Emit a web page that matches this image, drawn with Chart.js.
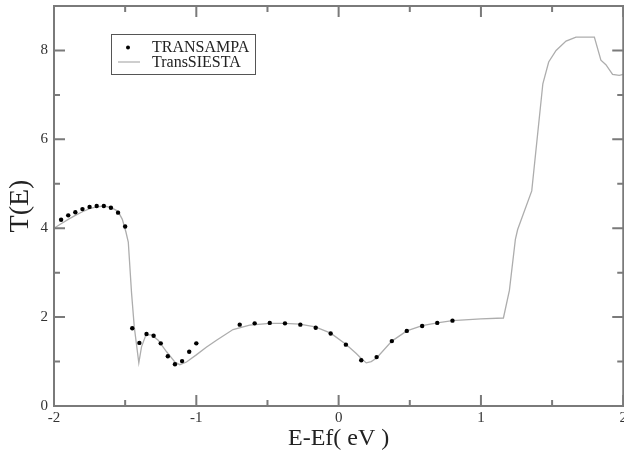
<!DOCTYPE html>
<html>
<head>
<meta charset="utf-8">
<script src="https://cdn.jsdelivr.net/npm/chart.js@4/dist/chart.umd.min.js"></script>
<style>
  html, body { margin: 0; padding: 0; background: #fff; overflow: hidden; }
  #wrap { width: 624px; height: 452px; overflow: hidden; }
</style>
</head>
<body>
<div id="wrap"><canvas id="miGrafica" width="630" height="452"></canvas></div>
<script>
// TRANSAMPA (puntos)
const ampaX = [-1.95, -1.90, -1.85, -1.80, -1.75, -1.70, -1.65, -1.60, -1.55, -1.50,
  -1.45, -1.40, -1.35, -1.30, -1.25, -1.20, -1.15, -1.10, -1.05, -1.00,
  -0.695, -0.59, -0.484, -0.377, -0.269, -0.161, -0.056, 0.051, 0.159, 0.267,
  0.374, 0.479, 0.587, 0.693, 0.80];
const ampaY = [4.19, 4.29, 4.36, 4.43, 4.48, 4.50, 4.50, 4.46, 4.35, 4.04,
  1.75, 1.42, 1.62, 1.58, 1.41, 1.12, 0.94, 1.01, 1.22, 1.41,
  1.83, 1.86, 1.87, 1.86, 1.83, 1.76, 1.63, 1.38, 1.03, 1.10,
  1.46, 1.69, 1.80, 1.87, 1.92];

// TransSIESTA (linea)
const siestaX = [-2.0, -1.95, -1.9, -1.85, -1.8, -1.75, -1.7, -1.65, -1.6, -1.55,
  -1.52, -1.495, -1.478, -1.455, -1.436, -1.404, -1.385, -1.354, -1.314, -1.268,
  -1.209, -1.151, -1.116, -1.069, -1.0, -0.93, -0.858, -0.742, -0.625, -0.484,
  -0.38, -0.274, -0.164, -0.056, 0.051, 0.124, 0.159, 0.194, 0.229, 0.267,
  0.374, 0.479, 0.587, 0.693, 0.80, 1.0, 1.158, 1.2, 1.242, 1.258,
  1.357, 1.435, 1.476, 1.528, 1.598, 1.668, 1.797, 1.843, 1.878, 1.925,
  1.972, 2.0];
const siestaY = [4.0, 4.1, 4.2, 4.29, 4.37, 4.44, 4.48, 4.5, 4.47, 4.38,
  4.2, 3.92, 3.69, 2.54, 1.78, 0.97, 1.33, 1.6, 1.6, 1.48,
  1.22, 0.99, 0.93, 0.99, 1.15, 1.32, 1.48, 1.72, 1.82, 1.86,
  1.86, 1.84, 1.78, 1.64, 1.39, 1.18, 1.07, 0.97, 1.0, 1.08,
  1.46, 1.69, 1.81, 1.87, 1.92, 1.96, 1.98, 2.6, 3.75, 3.97,
  4.84, 7.25, 7.74, 8.0, 8.21, 8.30, 8.30, 7.78, 7.68, 7.46,
  7.44, 7.46];

// Ticks
const ticksX = [-2, -1, 0, 1, 2];
const ticksXMenores = [-1.5, -0.5, 0.5, 1.5];
const ticksY = [0, 2, 4, 6, 8];
const ticksYMenores = [1, 3, 5, 7];

const fuente = "'Liberation Serif', 'Times New Roman', serif";
const colorEje = "#7a7a7a";

const aPuntos = (xs, ys) => xs.map((x, i) => ({ x: x, y: ys[i] }));

// Marco y ticks hacia adentro
const marcoPlugin = {
  id: "marco",
  afterDraw(chart) {
    const ctx = chart.ctx;
    const a = chart.chartArea;
    const sx = chart.scales.x;
    const sy = chart.scales.y;
    ctx.save();
    ctx.strokeStyle = colorEje;
    ctx.lineWidth = 2;
    ctx.strokeRect(a.left, a.top, a.right - a.left, a.bottom - a.top);
    ctx.beginPath();
    const marcaX = (v, largo) => {
      const px = sx.getPixelForValue(v);
      ctx.moveTo(px, a.bottom); ctx.lineTo(px, a.bottom - largo);
      ctx.moveTo(px, a.top); ctx.lineTo(px, a.top + largo);
    };
    const marcaY = (v, largo) => {
      const py = sy.getPixelForValue(v);
      ctx.moveTo(a.left, py); ctx.lineTo(a.left + largo, py);
      ctx.moveTo(a.right, py); ctx.lineTo(a.right - largo, py);
    };
    ticksX.forEach(v => marcaX(v, 11));
    ticksXMenores.forEach(v => marcaX(v, 6));
    ticksY.forEach(v => marcaY(v, 11));
    ticksYMenores.forEach(v => marcaY(v, 6));
    ctx.stroke();
    ctx.restore();
  }
};

// Leyenda dentro del grafico
const leyendaPlugin = {
  id: "leyendaCaja",
  afterDraw(chart) {
    const ctx = chart.ctx;
    const ds = chart.data.datasets;
    ctx.save();
    ctx.fillStyle = "#fff";
    ctx.fillRect(111, 34, 144, 40);
    ctx.strokeStyle = "#555";
    ctx.lineWidth = 1;
    ctx.strokeRect(111.5, 34.5, 144, 40);
    ctx.fillStyle = "#000";
    ctx.beginPath();
    ctx.arc(128, 47.5, 2, 0, Math.PI * 2);
    ctx.fill();
    ctx.strokeStyle = ds[1].borderColor;
    ctx.lineWidth = 1.2;
    ctx.beginPath();
    ctx.moveTo(118, 62); ctx.lineTo(140, 62);
    ctx.stroke();
    ctx.font = "16px " + fuente;
    ctx.fillStyle = "#222";
    ctx.textBaseline = "middle";
    ctx.fillText(ds[0].label, 152, 47.5);
    ctx.fillText(ds[1].label, 152, 63);
    ctx.restore();
  }
};

const ctx = document.getElementById("miGrafica").getContext("2d");
new Chart(ctx, {
  type: "scatter",
  data: {
    datasets: [
      {
        label: "TRANSAMPA",
        data: aPuntos(ampaX, ampaY),
        showLine: false,
        pointRadius: 2.2,
        pointBackgroundColor: "#000",
        pointBorderWidth: 0,
        order: 0,
      },
      {
        label: "TransSIESTA",
        data: aPuntos(siestaX, siestaY),
        showLine: true,
        borderColor: "#adadad",
        borderWidth: 1.3,
        pointRadius: 0,
        tension: 0,
        fill: false,
        order: 1,
      },
    ],
  },
  options: {
    responsive: false,
    animation: false,
    layout: { padding: { top: 6, right: 0, left: 0, bottom: 0 } },
    plugins: {
      legend: { display: false },
      tooltip: { enabled: false },
    },
    scales: {
      x: {
        type: "linear",
        min: -2,
        max: 2,
        grid: { display: false, drawTicks: false },
        border: { display: false },
        ticks: {
          stepSize: 1,
          padding: 3,
          color: "#333",
          font: { family: fuente, size: 15 },
          maxRotation: 0,
        },
        title: {
          display: true,
          text: "E-Ef( eV )",
          color: "#222",
          font: { family: fuente, size: 24 },
          padding: { top: 0, bottom: -1 },
        },
        afterFit(scale) {
          scale.height = 46;
        },
      },
      y: {
        type: "linear",
        min: 0,
        max: 9,
        grid: { display: false, drawTicks: false },
        border: { display: false },
        ticks: {
          stepSize: 2,
          includeBounds: false,
          padding: 6,
          color: "#333",
          font: { family: fuente, size: 15 },
        },
        title: {
          display: true,
          text: "T(E)",
          color: "#222",
          font: { family: fuente, size: 28 },
          padding: { top: 4, bottom: 0 },
        },
        afterFit(scale) {
          scale.width = 54;
          scale.paddingTop = 0;
          scale.paddingBottom = 0;
        },
      },
    },
  },
  plugins: [marcoPlugin, leyendaPlugin],
});
</script>
</body>
</html>
